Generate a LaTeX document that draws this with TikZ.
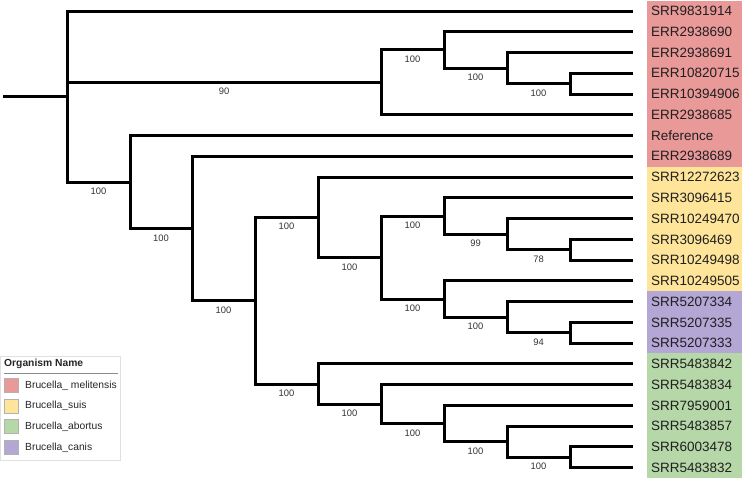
\documentclass[tikz,border=0pt]{standalone}
\usepackage{fontspec}
\setmainfont{Liberation Sans}
\usepackage{tikz}
\usetikzlibrary{
    calc
}

% Couleurs des especes
\definecolor{mel}{HTML}{EA9999}
\definecolor{suis}{HTML}{FFE599}
\definecolor{abor}{HTML}{B6D7A8}
\definecolor{canis}{HTML}{B4A7D6}

% Ordonnee d'une feuille (rang 0 en haut)
\newcommand{\ry}[1]{11+20.76*#1}

\begin{document}
\begin{tikzpicture}[x=1pt,y=-1pt,
    branche/.style={line width=3pt,line join=miter},
    support/.style={pos=.75,below=3.5pt,inner sep=1pt,text=black!80,
        font=\fontsize{9.4}{10}\selectfont},
    feuille/.style={anchor=west,minimum height=21pt,text width=86.7pt,
        inner xsep=4.3pt,inner ysep=0pt,align=left,text=black!88,
        font=\fontsize{13.5}{15}\selectfont},
    legende/.style={anchor=west,inner sep=0pt,text=black!85,
        font=\fontsize{10.3}{12}\selectfont}
]

\useasboundingbox (0,0) rectangle (742,479);

% Feuilles et bandeaux de couleur
\foreach \nom/\coul [count=\i from 0] in {
    SRR9831914/mel, ERR2938690/mel, ERR2938691/mel, ERR10820715/mel,
    ERR10394906/mel, ERR2938685/mel, Reference/mel, ERR2938689/mel,
    SRR12272623/suis, SRR3096415/suis, SRR10249470/suis, SRR3096469/suis,
    SRR10249498/suis, SRR10249505/suis,
    SRR5207334/canis, SRR5207335/canis, SRR5207333/canis,
    SRR5483842/abor, SRR5483834/abor, SRR7959001/abor,
    SRR5483857/abor, SRR6003478/abor, SRR5483832/abor} {
    \coordinate (t\i) at (633,{\ry{\i}});
    \node[feuille,fill=\coul] (f\i) at (646.7,{\ry{\i}}) {\nom};
}

% Noeuds internes
\coordinate (r0) at (3,{\ry{4.1191}});
\coordinate (root) at (67,{\ry{4.1191}});
\coordinate (a1) at (381,{\ry{3.4375}});
\coordinate (a2) at (444,{\ry{1.875}});
\coordinate (a3) at (507,{\ry{2.75}});
\coordinate (a4) at (570,{\ry{3.5}});
\coordinate (b1) at (130,{\ry{8.2383}});
\coordinate (b2) at (192,{\ry{10.4766}});
\coordinate (b3) at (255,{\ry{13.9531}});
\coordinate (u1) at (318,{\ry{9.9375}});
\coordinate (s1) at (381,{\ry{11.875}});
\coordinate (s2) at (444,{\ry{9.875}});
\coordinate (s3) at (507,{\ry{10.75}});
\coordinate (s4) at (570,{\ry{11.5}});
\coordinate (c1) at (444,{\ry{13.875}});
\coordinate (c2) at (507,{\ry{14.75}});
\coordinate (c3) at (570,{\ry{15.5}});
\coordinate (g1) at (318,{\ry{17.9688}});
\coordinate (g2) at (381,{\ry{18.9375}});
\coordinate (g3) at (444,{\ry{19.875}});
\coordinate (g4) at (507,{\ry{20.75}});
\coordinate (g5) at (570,{\ry{21.5}});

% Tronc
\draw[branche] (r0) -- (root);

% Branches internes avec valeurs de bootstrap
\foreach \p/\c/\v in {root/a1/90, root/b1/100, a1/a2/100, a2/a3/100,
    a3/a4/100, b1/b2/100, b2/b3/100, b3/u1/100, b3/g1/100, u1/s1/100,
    s1/s2/100, s1/c1/100, s2/s3/99, s3/s4/78, c1/c2/100, c2/c3/94,
    g1/g2/100, g2/g3/100, g3/g4/100, g4/g5/100}
    \draw[branche] (\p) |- (\c) node[support] {\v};

% Branches terminales
\foreach \p/\c in {root/0, a2/1, a3/2, a4/3, a4/4, a1/5, b1/6, b2/7,
    u1/8, s2/9, s3/10, s4/11, s4/12, c1/13, c2/14, c3/15, c3/16,
    g1/17, g2/18, g3/19, g4/20, g5/21, g5/22}
    \draw[branche] (\p) |- (t\c);

% Legende
\draw[black!12,fill=white,line width=.8pt] (0,356.7) rectangle (120.7,460);
\node[legende,font=\bfseries\fontsize{10.3}{12}\selectfont] (titre) at (4,364) {Organism Name};
\draw[black!45,line width=.8pt] (4,373.3) -- (118,373.3);
\foreach \nom/\coul [count=\i from 0] in {Brucella\_ melitensis/mel,
    Brucella\_suis/suis, Brucella\_abortus/abor, Brucella\_canis/canis} {
    \node[draw=black!30,line width=.5pt,fill=\coul,minimum size=14pt,inner sep=0pt]
        (cl\i) at (11,{385.3+20.7*\i}) {};
    \node[legende] (nl\i) at (25,{385.3+20.7*\i}) {\nom};
}

\end{tikzpicture}
\end{document}
